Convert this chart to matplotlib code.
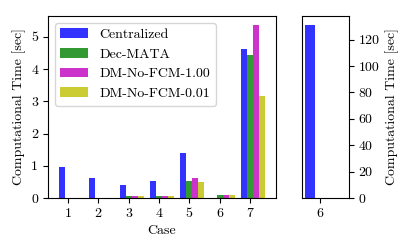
import numpy as np
import matplotlib
matplotlib.use("Agg")
import matplotlib.pyplot as plt

plt.rcParams['font.family'] = 'serif'
plt.rcParams['font.serif'] = ['cmr10', 'DejaVu Serif']
plt.rcParams['mathtext.fontset'] = 'cm'
plt.rcParams['axes.unicode_minus'] = False
plt.rcParams['font.size'] = 10

# =========================
# Data
# =========================
cases = [1, 2, 3, 4, 5, 6, 7]
labels = ["Centralized", "Dec-MATA", "DM-No-FCM-1.00", "DM-No-FCM-0.01"]
centralized = [0.95, 0.63, 0.41, 0.52, 1.41, 0.0, 4.62]
dec_mata = [0.0, 0.01, 0.05, 0.07, 0.54, 0.08, 4.44]
dm_1 = [0.0, 0.01, 0.06, 0.07, 0.61, 0.08, 5.37]
dm_001 = [0.0, 0.0, 0.05, 0.06, 0.50, 0.08, 3.18]
centralized_case6 = 131.0

colors = ['b', 'g', 'm', 'y']
width = 0.2

fig = plt.figure(figsize=(4.1, 2.49), dpi=100)
ax1 = fig.add_axes([0.117, 0.205, 0.556, 0.731])
ax2 = fig.add_axes([0.737, 0.205, 0.114, 0.731])

x = np.array(cases, dtype=float)
series = [centralized, dec_mata, dm_1, dm_001]
for i, (vals, lab, c) in enumerate(zip(series, labels, colors)):
    ax1.bar(x + (i - 1) * width, vals, width, color=c, alpha=0.8, label=lab)

ax1.set_xticks(cases)
ax1.set_xlim(0.34, 7.86)
ax1.set_ylim(0, 5.65)
ax1.set_yticks([0, 1, 2, 3, 4, 5])
ax1.set_xlabel("Case")
ax1.set_ylabel("Computational Time [sec]")
ax1.legend(loc='upper left')

ax2.bar([6 - width], [centralized_case6], width, color='b', alpha=0.8)
ax2.set_xticks([6])
ax2.set_xlim(5.64, 6.58)
ax2.set_ylim(0, 138)
ax2.set_yticks([0, 20, 40, 60, 80, 100, 120])
ax2.yaxis.tick_right()
ax2.yaxis.set_label_position('right')
ax2.set_ylabel("Computational Time [sec]")

fig.savefig("out.png", dpi=100)
